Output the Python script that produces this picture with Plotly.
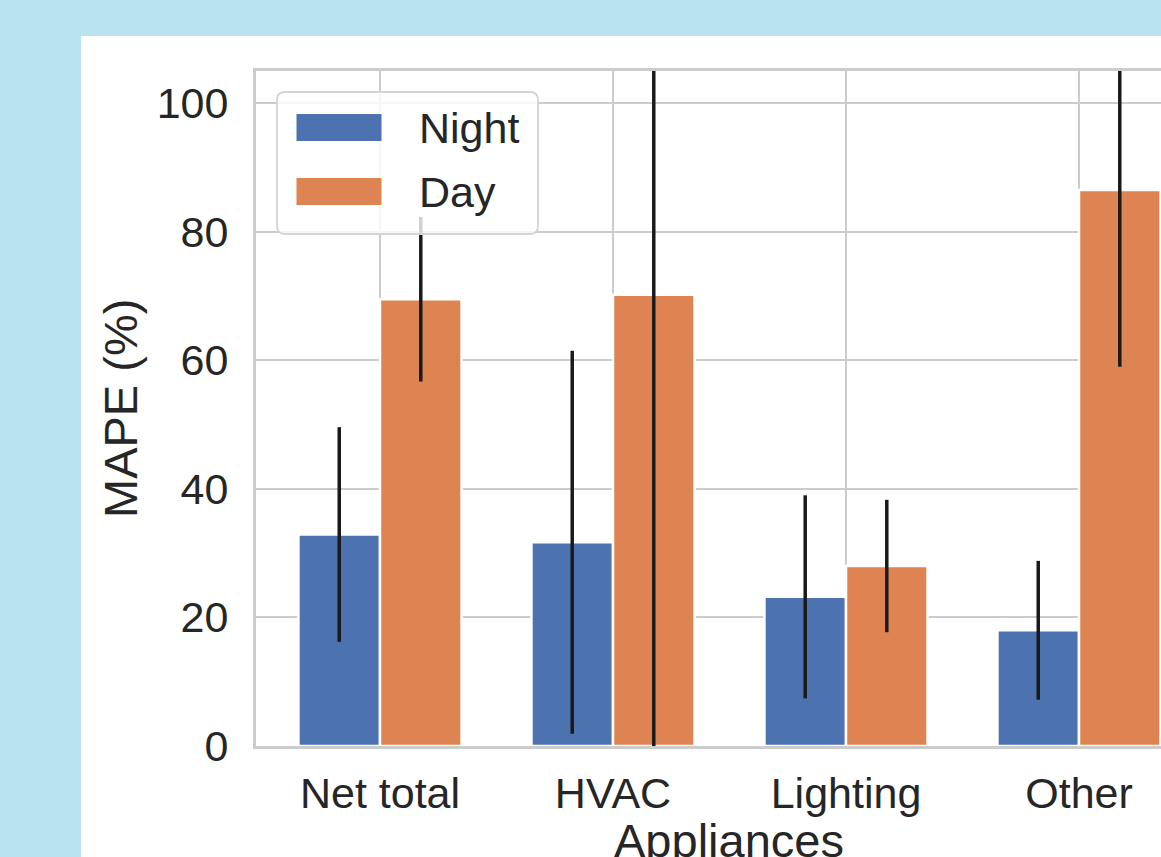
import plotly.graph_objects as go

# MAPE per appliance group, night vs day, with standard deviation
categories = ["Net total", "HVAC", "Lighting", "Other"]
night_mape = [32.9, 31.7, 23.2, 18.0]
night_std = [16.7, 29.8, 15.8, 10.8]
day_mape = [69.5, 70.2, 28.0, 86.5]
day_std = [12.8, 72.0, 10.3, 27.5]
y_ticks = [0, 20, 40, 60, 80, 100]

BLUE = "#4C72B0"
ORANGE = "#DD8452"
TEXT = "#262626"
GRID = "#cccccc"
FONT = "Liberation Sans, Arial, sans-serif"

W, H = 1161, 857
L, R, T, B = 256, 0, 71, 111
PW, PH = W - L - R, H - T - B


def fx(px):
    """pixel x -> paper x"""
    return (px - L) / PW


def fy(py):
    """pixel y -> paper y"""
    return (H - B - py) / PH


fig = go.Figure()
fig.add_trace(go.Bar(
    name="Night", x=categories, y=night_mape,
    marker=dict(color=BLUE, line=dict(color="white", width=2.5)),
    error_y=dict(type="data", array=night_std, symmetric=True,
                 color="#1a1a1a", thickness=3.5, width=0),
))
fig.add_trace(go.Bar(
    name="Day", x=categories, y=day_mape,
    marker=dict(color=ORANGE, line=dict(color="white", width=2.5)),
    error_y=dict(type="data", array=day_std, symmetric=True,
                 color="#1a1a1a", thickness=3.5, width=0),
))

# white figure panel over the light-blue page
shapes = [dict(type="rect", xref="paper", yref="paper", layer="below",
               x0=fx(81), x1=fx(W + 20), y0=fy(H + 20), y1=fy(36),
               fillcolor="white", line=dict(width=0))]

# legend frame with rounded corners
lx0, lx1, ly0, ly1, rad = 277, 538, 92, 234, 8
path = (f"M {fx(lx0 + rad)},{fy(ly0)} L {fx(lx1 - rad)},{fy(ly0)} "
        f"Q {fx(lx1)},{fy(ly0)} {fx(lx1)},{fy(ly0 + rad)} "
        f"L {fx(lx1)},{fy(ly1 - rad)} "
        f"Q {fx(lx1)},{fy(ly1)} {fx(lx1 - rad)},{fy(ly1)} "
        f"L {fx(lx0 + rad)},{fy(ly1)} "
        f"Q {fx(lx0)},{fy(ly1)} {fx(lx0)},{fy(ly1 - rad)} "
        f"L {fx(lx0)},{fy(ly0 + rad)} "
        f"Q {fx(lx0)},{fy(ly0)} {fx(lx0 + rad)},{fy(ly0)} Z")
shapes.append(dict(type="path", xref="paper", yref="paper", layer="above",
                   path=path, fillcolor="rgba(255,255,255,0.8)",
                   line=dict(color="#d4d4d4", width=1.8)))

legend_items = [("Night", BLUE, 113.5, 141.5), ("Day", ORANGE, 177.5, 205.5)]
annotations = []
for label, color, top, bottom in legend_items:
    shapes.append(dict(type="rect", xref="paper", yref="paper", layer="above",
                       x0=fx(296), x1=fx(382), y0=fy(bottom), y1=fy(top),
                       fillcolor=color, line=dict(color="white", width=1)))
    annotations.append(dict(text=label, xref="paper", yref="paper",
                            x=fx(417), y=fy((top + bottom) / 2),
                            xanchor="left", yanchor="middle", showarrow=False,
                            font=dict(family=FONT, size=43, color=TEXT)))

# axis titles
annotations.append(dict(text="Appliances", xref="paper", yref="paper",
                        x=fx(729), y=fy(840), xanchor="center", yanchor="middle",
                        showarrow=False, font=dict(family=FONT, size=47, color=TEXT)))
annotations.append(dict(text="MAPE (%)", xref="paper", yref="paper",
                        x=fx(120), y=fy(409), xanchor="center", yanchor="middle",
                        textangle=-90, showarrow=False,
                        font=dict(family=FONT, size=47, color=TEXT)))

fig.update_layout(
    width=W, height=H,
    margin=dict(l=L, r=R, t=T, b=B, pad=0),
    paper_bgcolor="#B9E3F0",
    plot_bgcolor="white",
    barmode="group", bargap=0.3, bargroupgap=0,
    showlegend=False,
    font=dict(family=FONT, size=43, color=TEXT),
    shapes=shapes,
    annotations=annotations,
    xaxis=dict(
        type="category", range=[-(380 - L) / 233, (W - R - 380) / 233],
        showgrid=True, gridcolor=GRID, gridwidth=2.2,
        showline=True, linecolor=GRID, linewidth=3, mirror=True,
        ticks="outside", ticklen=7, tickcolor="rgba(0,0,0,0)",
        tickfont=dict(family=FONT, size=43, color=TEXT),
        zeroline=False,
    ),
    yaxis=dict(
        range=[0, 105], tickvals=y_ticks,
        showgrid=True, gridcolor=GRID, gridwidth=2.2,
        showline=True, linecolor=GRID, linewidth=3, mirror=False,
        ticks="outside", ticklen=16, tickcolor="rgba(0,0,0,0)",
        tickfont=dict(family=FONT, size=43, color=TEXT),
        zeroline=False,
    ),
)

fig.write_html("out.html")
